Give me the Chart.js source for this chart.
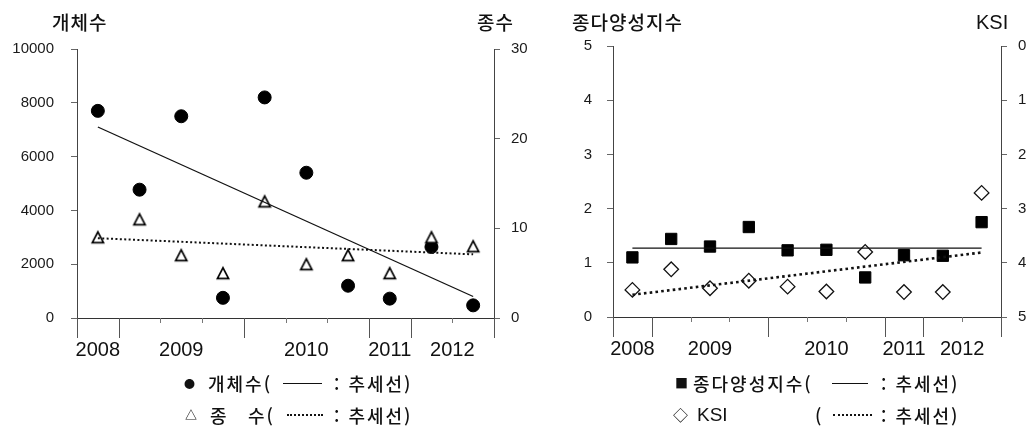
<!DOCTYPE html>
<html lang="ko">
<head>
<meta charset="utf-8">
<title>개체수 · 종다양성지수</title>
<script src="https://cdn.jsdelivr.net/npm/chart.js@4.4.1/dist/chart.umd.min.js"></script>
<style>
  html, body { margin: 0; padding: 0; background: #fff; }
  #wrap { position: relative; width: 1029px; height: 427px; overflow: hidden; background: #fff; }
  canvas { position: absolute; top: 0; }
  #left { left: 0; }
  #right { left: 540px; }
  .t { position: absolute; color: #111; white-space: nowrap; line-height: 24px; }
  .ko { font-family: "Noto Sans CJK KR", sans-serif; font-size: 19px; letter-spacing: 1px; font-weight: 500; }
  .lat { font-family: "Liberation Sans", Arial, sans-serif; font-size: 20px; }
  .lg { font-family: "Noto Sans CJK KR", sans-serif; font-size: 18px; letter-spacing: 2px; font-weight: 500; }
  .sym { font-family: "Noto Sans CJK KR", sans-serif; font-size: 13px; font-weight: 700; }
  .ln { position: absolute; height: 0; border-top: 1.3px solid #111; }
  .dt { position: absolute; height: 0; border-top: 2px dotted #111; }
</style>
</head>
<body>
<div id="wrap">
  <canvas id="left" width="540" height="427"></canvas>
  <canvas id="right" width="489" height="427"></canvas>

  <!-- axis titles -->
  <div class="t ko" style="left:52px; top:10px;">개체수</div>
  <div class="t ko" style="left:477px; top:10px;">종수</div>
  <div class="t ko" style="left:572px; top:10px;">종다양성지수</div>
  <div class="t lat" style="left:976px; top:10px;">KSI</div>

  <!-- legend, left chart -->
  <div class="t sym" style="left:184px; top:371px; font-size:11px;">●</div>
  <div class="t lg" style="left:208px; top:371px;">개체수(</div>
  <div class="ln" style="left:283px; width:39px; top:383px;"></div>
  <div class="t lg" style="left:334px; top:371px;">: 추세선)</div>

  <div class="t sym" style="left:185px; top:403px; font-size:12px;">△</div>
  <div class="t lg" style="left:210px; top:403px;">종</div>
  <div class="t lg" style="left:248px; top:403px;">수(</div>
  <div class="dt" style="left:287px; width:36px; top:414px;"></div>
  <div class="t lg" style="left:334px; top:403px;">: 추세선)</div>

  <!-- legend, right chart -->
  <div class="t sym" style="left:675px; top:371px; font-size:13px;">■</div>
  <div class="t lg" style="left:693px; top:371px;">종다양성지수(</div>
  <div class="ln" style="left:832px; width:36px; top:383px;"></div>
  <div class="t lg" style="left:881px; top:371px;">: 추세선)</div>

  <div class="t sym" style="left:673px; top:403px; font-size:15px; font-weight:400;">◇</div>
  <div class="t lat" style="left:697px; top:403px; font-size:19px;">KSI</div>
  <div class="t lg" style="left:815px; top:403px;">(</div>
  <div class="dt" style="left:833px; width:39px; top:414px;"></div>
  <div class="t lg" style="left:881px; top:403px;">: 추세선)</div>
</div>

<script>
// ---- data ----
const yearLabels = ['2008', '2009', '2010', '2011', '2012'];
const yearLabelPos = [0.5, 2.5, 5.5, 7.5, 9];   // label centres, in survey slots
const yearBounds = [0, 1, 4, 7, 8, 10];          // long tick marks between years

const individuals = [7700, 4770, 7500, 750, 8200, 5400, 1200, 720, 2640, 470];
const speciesCount = [9, 11, 7, 5, 13, 6, 7, 5, 9, 8];
const individualsTrend = [7100, 800];
const speciesTrend = [8.9, 7.1];

const diversityIndex = [1.10, 1.44, 1.30, 1.66, 1.23, 1.24, 0.73, 1.14, 1.13, 1.75];
const ksi = [4.50, 4.12, 4.47, 4.33, 4.44, 4.53, 3.80, 4.54, 4.54, 2.71];
const diversityTrend = [1.27, 1.27];
const ksiTrend = [4.59, 3.81];

const slotCount = individuals.length;
const trendX = [0.5, slotCount - 0.5];

// ---- helpers ----
const toPoints = arr => arr.map((v, i) => ({ x: i + 0.5, y: v }));
const trendPoints = arr => arr.map((v, i) => ({ x: trendX[i], y: v }));

// open triangle, centred on its bounding box
function makeTriangle() {
  const c = document.createElement('canvas');
  c.width = 16; c.height = 16;
  const g = c.getContext('2d');
  g.beginPath();
  g.moveTo(8, 2.6);
  g.lineTo(13.6, 13.4);
  g.lineTo(2.4, 13.4);
  g.closePath();
  g.fillStyle = '#fff';
  g.fill();
  g.lineWidth = 1.7;
  g.lineJoin = 'miter';
  g.strokeStyle = '#000';
  g.stroke();
  return c;
}

// tick marks under the x axis: long at year boundaries, short elsewhere
const yearTicks = {
  id: 'yearTicks',
  afterDraw(chart) {
    const { ctx, chartArea, scales } = chart;
    const x = scales.x;
    ctx.save();
    ctx.lineWidth = 1;
    for (let v = 0; v <= slotCount; v++) {
      const px = Math.round(x.getPixelForValue(v)) + 0.5;
      const long = yearBounds.includes(v);
      ctx.strokeStyle = long ? '#555' : '#777';
      ctx.beginPath();
      ctx.moveTo(px, chartArea.bottom);
      ctx.lineTo(px, chartArea.bottom + (long ? 20 : 5));
      ctx.stroke();
    }
    ctx.restore();
  }
};

const tickFont = { family: '"Liberation Sans", Arial, sans-serif', size: 15 };
const yearFont = { family: '"Liberation Sans", Arial, sans-serif', size: 20 };

function xAxis() {
  return {
    type: 'linear',
    min: 0,
    max: slotCount,
    afterBuildTicks: s => { s.ticks = yearLabelPos.map(v => ({ value: v })); },
    afterFit: s => { s.height = 40; },
    ticks: {
      autoSkip: false,
      maxRotation: 0,
      padding: 20,
      color: '#111',
      font: yearFont,
      callback: v => yearLabels[yearLabelPos.indexOf(v)]
    },
    grid: { drawOnChartArea: false, drawTicks: false },
    border: { color: '#333', width: 1 }
  };
}

function yAxis(pos, min, max, step, width, pad, reverse) {
  return {
    type: 'linear',
    position: pos,
    min: min,
    max: max,
    reverse: !!reverse,
    afterFit: s => { s.width = width; },
    ticks: {
      stepSize: step,
      padding: pad,
      color: '#1a1a1a',
      font: tickFont,
      callback: v => String(v)
    },
    grid: { drawOnChartArea: false, tickLength: 6, color: '#666' },
    border: { color: '#444', width: 1 }
  };
}

const baseOptions = {
  responsive: false,
  animation: false,
  events: [],
  plugins: { legend: { display: false }, tooltip: { enabled: false } }
};

// ---- left: individuals / species ----
new Chart(document.getElementById('left'), {
  type: 'scatter',
  data: {
    datasets: [
      {
        label: '개체수 추세선',
        data: trendPoints(individualsTrend),
        yAxisID: 'y',
        showLine: true,
        pointRadius: 0,
        borderColor: '#111',
        borderWidth: 1.3,
        order: 0
      },
      {
        label: '종수 추세선',
        data: trendPoints(speciesTrend),
        yAxisID: 'y2',
        showLine: true,
        pointRadius: 0,
        borderColor: '#111',
        borderWidth: 2,
        borderDash: [2, 2.4],
        order: 1
      },
      {
        label: '종수',
        data: toPoints(speciesCount),
        yAxisID: 'y2',
        pointStyle: makeTriangle(),
        order: 2
      },
      {
        label: '개체수',
        data: toPoints(individuals),
        yAxisID: 'y',
        pointStyle: 'circle',
        pointRadius: 6.5,
        backgroundColor: '#000',
        borderColor: '#000',
        borderWidth: 1,
        order: 3
      }
    ]
  },
  options: {
    ...baseOptions,
    layout: { padding: { top: 49, bottom: 69, left: 0, right: 0 } },
    scales: {
      x: xAxis(),
      y: yAxis('left', 0, 10000, 2000, 77, 17),
      y2: yAxis('right', 0, 30, 10, 46, 11)
    }
  },
  plugins: [yearTicks]
});

// ---- right: diversity index / KSI ----
new Chart(document.getElementById('right'), {
  type: 'scatter',
  data: {
    datasets: [
      {
        label: '종다양성지수 추세선',
        data: trendPoints(diversityTrend),
        yAxisID: 'y',
        showLine: true,
        pointRadius: 0,
        borderColor: '#111',
        borderWidth: 1.3,
        order: 0
      },
      {
        label: 'KSI 추세선',
        data: trendPoints(ksiTrend),
        yAxisID: 'y2',
        showLine: true,
        pointRadius: 0,
        borderColor: '#111',
        borderWidth: 2.6,
        borderDash: [2.6, 3.2],
        order: 1
      },
      {
        label: 'KSI',
        data: toPoints(ksi),
        yAxisID: 'y2',
        pointStyle: 'rectRot',
        pointRadius: 7.3,
        backgroundColor: '#fff',
        borderColor: '#111',
        borderWidth: 1.3,
        order: 2
      },
      {
        label: '종다양성지수',
        data: toPoints(diversityIndex),
        yAxisID: 'y',
        pointStyle: 'rect',
        pointRadius: 8,
        backgroundColor: '#000',
        borderColor: '#000',
        borderWidth: 1,
        order: 3
      }
    ]
  },
  options: {
    ...baseOptions,
    layout: { padding: { top: 46, bottom: 70, left: 0, right: 0 } },
    scales: {
      x: xAxis(),
      y: yAxis('left', 0, 5, 1, 73, 15),
      y2: yAxis('right', 0, 5, 1, 28, 11, true)
    }
  },
  plugins: [yearTicks]
});
</script>
</body>
</html>
